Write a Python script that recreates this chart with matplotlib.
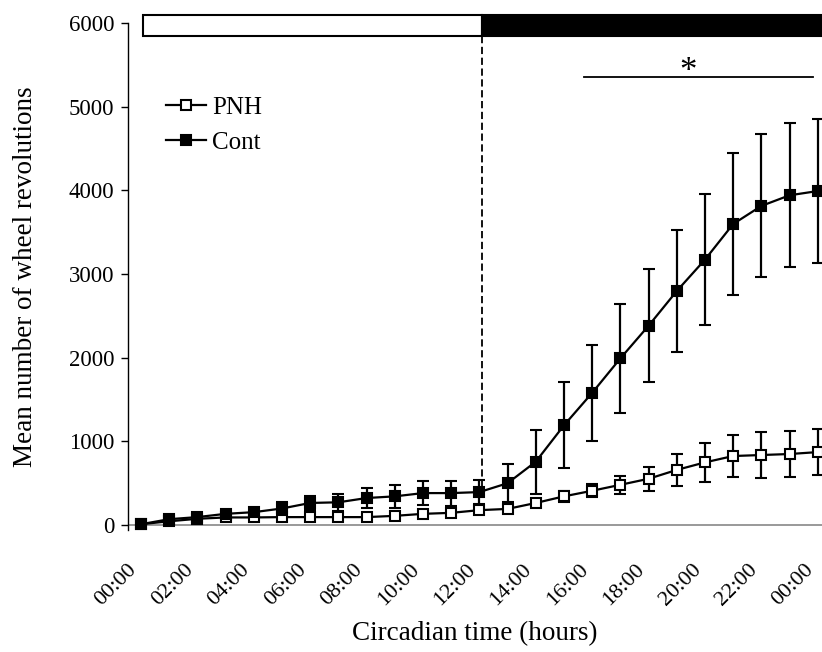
import matplotlib
matplotlib.use("Agg")
import matplotlib.pyplot as plt
from matplotlib.patches import Rectangle
from matplotlib.lines import Line2D
import matplotlib.transforms as mtransforms

hours = list(range(25))
tick_hours = list(range(0, 25, 2))
tick_labels = ["00:00", "02:00", "04:00", "06:00", "08:00", "10:00", "12:00",
               "14:00", "16:00", "18:00", "20:00", "22:00", "00:00"]

cont_mean = [10, 70, 95, 134, 154, 198, 264, 272, 323, 343, 382, 382, 394,
             500, 757, 1192, 1580, 1992, 2382, 2797, 3172, 3598, 3814, 3941, 3992]
cont_err = [10, 30, 25, 45, 50, 75, 80, 100, 120, 140, 140, 150, 140,
            226, 383, 515, 570, 650, 675, 730, 780, 850, 855, 860, 860]
pnh_mean = [10, 45, 75, 91, 91, 95, 95, 95, 95, 110, 134, 146, 178,
            193, 264, 343, 410, 481, 553, 659, 749, 825, 837, 849, 872]
pnh_err = [10, 20, 20, 25, 25, 25, 25, 25, 25, 50, 50, 55, 45,
           47, 51, 69, 77, 108, 144, 187, 229, 256, 270, 280, 276]

light_start = 0.07
dark_start = 12.08
sig_start, sig_end = 15.7, 23.83
sig_star_x = 19.4

plt.rcParams['font.family'] = ['Liberation Serif', 'DejaVu Serif']

fig = plt.figure(figsize=(8.22, 6.52), dpi=100)
ax = fig.add_axes([0.1557, 0.187, 0.8443, 0.7777])

style = dict(color='black', lw=1.6, marker='s', markersize=7,
             markeredgecolor='black', markeredgewidth=1.5,
             elinewidth=1.6, capsize=4.3, capthick=1.6)
ax.errorbar(hours, pnh_mean, yerr=pnh_err, markerfacecolor='white', zorder=3, **style)
ax.errorbar(hours, cont_mean, yerr=cont_err, markerfacecolor='black', zorder=4, **style)

ax.set_xlim(-0.46, 24.15)
ax.set_ylim(-60, 6000)
ax.set_yticks([0, 1000, 2000, 3000, 4000, 5000, 6000])
ax.set_xticks(tick_hours)
ax.set_xticklabels(tick_labels, rotation=45, ha='right', va='top')
offset = mtransforms.ScaledTranslation(-11 / 100, 0, fig.dpi_scale_trans)
for lab in ax.get_xticklabels():
    lab.set_transform(lab.get_transform() + offset)

ax.tick_params(axis='x', length=0, pad=22, labelsize=16)
ax.tick_params(axis='y', length=5, width=1, direction='out', labelsize=16.5, pad=5)

for s in ['top', 'right', 'bottom']:
    ax.spines[s].set_visible(False)
ax.spines['left'].set_linewidth(1)
ax.axhline(0, color='#888888', lw=1.2, zorder=1)

# light/dark bar
bar_lo, bar_hi = 5846, 6095
ax.add_patch(Rectangle((light_start, bar_lo), dark_start - light_start,
                       bar_hi - bar_lo, facecolor='white', edgecolor='black',
                       lw=1.5, clip_on=False, zorder=5))
ax.add_patch(Rectangle((dark_start, bar_lo), 30 - dark_start, bar_hi - bar_lo,
                       facecolor='black', edgecolor='black', lw=1.5,
                       clip_on=False, zorder=5))
ax.plot([dark_start, dark_start], [bar_lo, 470], color='black', lw=1.3,
        ls=(0, (4, 2)), zorder=2)

# significance
ax.plot([sig_start, sig_end], [5349, 5349], color='black', lw=1.3)
ax.text(sig_star_x, 5210, '*', ha='center', va='bottom', fontsize=25)

ax.set_ylabel('Mean number of wheel revolutions', fontsize=19.5, labelpad=22)
ax.set_xlabel('Circadian time (hours)', fontsize=19.5, labelpad=8)

handles = [
    Line2D([], [], color='black', lw=1.6, marker='s', markersize=7,
           markerfacecolor='white', markeredgecolor='black', markeredgewidth=1.5),
    Line2D([], [], color='black', lw=1.6, marker='s', markersize=7,
           markerfacecolor='black', markeredgecolor='black', markeredgewidth=1.5),
]
ax.legend(handles, ['PNH', 'Cont'], loc='upper left', bbox_to_anchor=(0.055, 0.855),
          frameon=False, fontsize=18, handlelength=1.6, handletextpad=0.25,
          labelspacing=0.48, borderpad=0, borderaxespad=0)

fig.savefig('out.png', dpi=100)
